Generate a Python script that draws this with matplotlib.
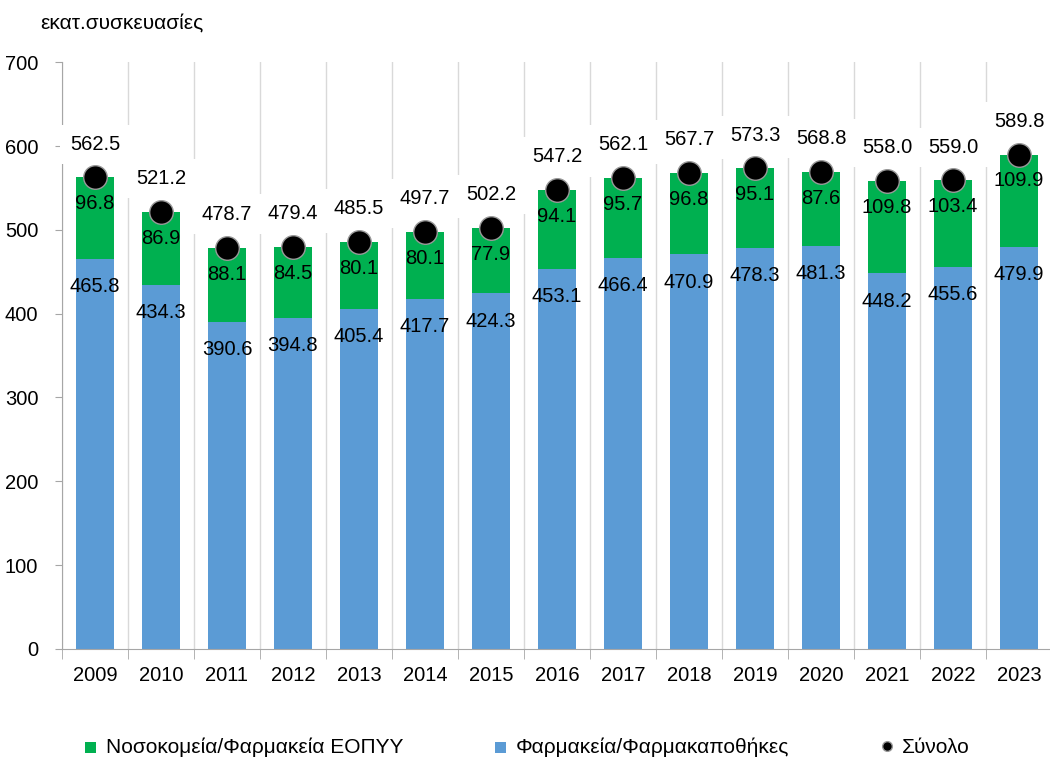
import numpy as np
import matplotlib.pyplot as plt
from matplotlib.ticker import FixedLocator

plt.rcParams["font.family"] = ["Liberation Sans", "DejaVu Sans"]

years = ["2009", "2010", "2011", "2012", "2013", "2014", "2015", "2016",
         "2017", "2018", "2019", "2020", "2021", "2022", "2023"]
pharmacies = [465.8, 434.3, 390.6, 394.8, 405.4, 417.7, 424.3, 453.1,
              466.4, 470.9, 478.3, 481.3, 448.2, 455.6, 479.9]
hospitals = [96.8, 86.9, 88.1, 84.5, 80.1, 80.1, 77.9, 94.1,
             95.7, 96.8, 95.1, 87.6, 109.8, 103.4, 109.9]
totals = [562.5, 521.2, 478.7, 479.4, 485.5, 497.7, 502.2, 547.2,
          562.1, 567.7, 573.3, 568.8, 558.0, 559.0, 589.8]

GREEN = "#00B050"
BLUE = "#5B9BD5"

fig = plt.figure(figsize=(10.5, 7.59), dpi=100)
ax = fig.add_axes([0.059, 0.145, 0.943, 0.773])

x = np.arange(len(years))
w = 0.58
b1 = ax.bar(x, pharmacies, w, color=BLUE, zorder=2,
            label="Φαρμακεία/Φαρμακαποθήκες")
b2 = ax.bar(x, hospitals, w, bottom=pharmacies, color=GREEN, zorder=2,
            label="Νοσοκομεία/Φαρμακεία ΕΟΠΥΥ")
dots, = ax.plot(x, totals, "o", color="black", markersize=17,
                markeredgecolor="#999999", markeredgewidth=1, zorder=4,
                label="Σύνολο")

fs = 14.5
for i in range(len(years)):
    top_blue = pharmacies[i]
    top_green = pharmacies[i] + hospitals[i]
    ax.annotate(f"{pharmacies[i]:.1f}", (x[i], top_blue), xytext=(0, -20),
                textcoords="offset points", ha="center", va="center",
                fontsize=fs, zorder=5)
    ax.annotate(f"{hospitals[i]:.1f}", (x[i], top_green), xytext=(0, -19),
                textcoords="offset points", ha="center", va="center",
                fontsize=fs, zorder=5)
    ax.annotate(f"{totals[i]:.1f}", (x[i], totals[i]), xytext=(0, 24),
                textcoords="offset points", ha="center", va="center",
                fontsize=fs, zorder=5,
                bbox=dict(boxstyle="square,pad=0.5", fc="white", ec="none"))

ax.set_xlim(-0.5, len(years) - 0.5)
ax.set_ylim(0, 700)
ax.set_yticks(np.arange(0, 701, 100))
ax.set_xticks(x)
ax.set_xticklabels(years)
ax.xaxis.set_minor_locator(FixedLocator(np.arange(-0.5, len(years), 1.0)))
ax.tick_params(axis="x", which="major", length=0, pad=12, labelsize=fs)
ax.tick_params(axis="x", which="minor", length=7, color="#a6a6a6", direction="out")
ax.tick_params(axis="y", length=5, color="#a6a6a6", labelsize=fs, pad=12)
ax.grid(axis="x", which="minor", color="#d9d9d9", linewidth=1, zorder=0)
ax.set_axisbelow(True)

for side in ["top", "right"]:
    ax.spines[side].set_visible(False)
ax.spines["left"].set_color("#a6a6a6")
ax.spines["bottom"].set_color("#a6a6a6")

fig.text(0.038, 0.97, "εκατ.συσκευασίες", fontsize=15, va="center", ha="left")

leg = fig.legend(handles=[b2, b1, dots], loc="center", ncol=3,
                 bbox_to_anchor=(0.502, 0.015), frameon=False, fontsize=15,
                 columnspacing=4.4, handlelength=0.6, handletextpad=0.4)
for h in leg.legend_handles[:2]:
    h.set_height(8)
    h.set_width(8)
leg.legend_handles[2].set_markersize(7)

fig.savefig("out.png", dpi=100)
